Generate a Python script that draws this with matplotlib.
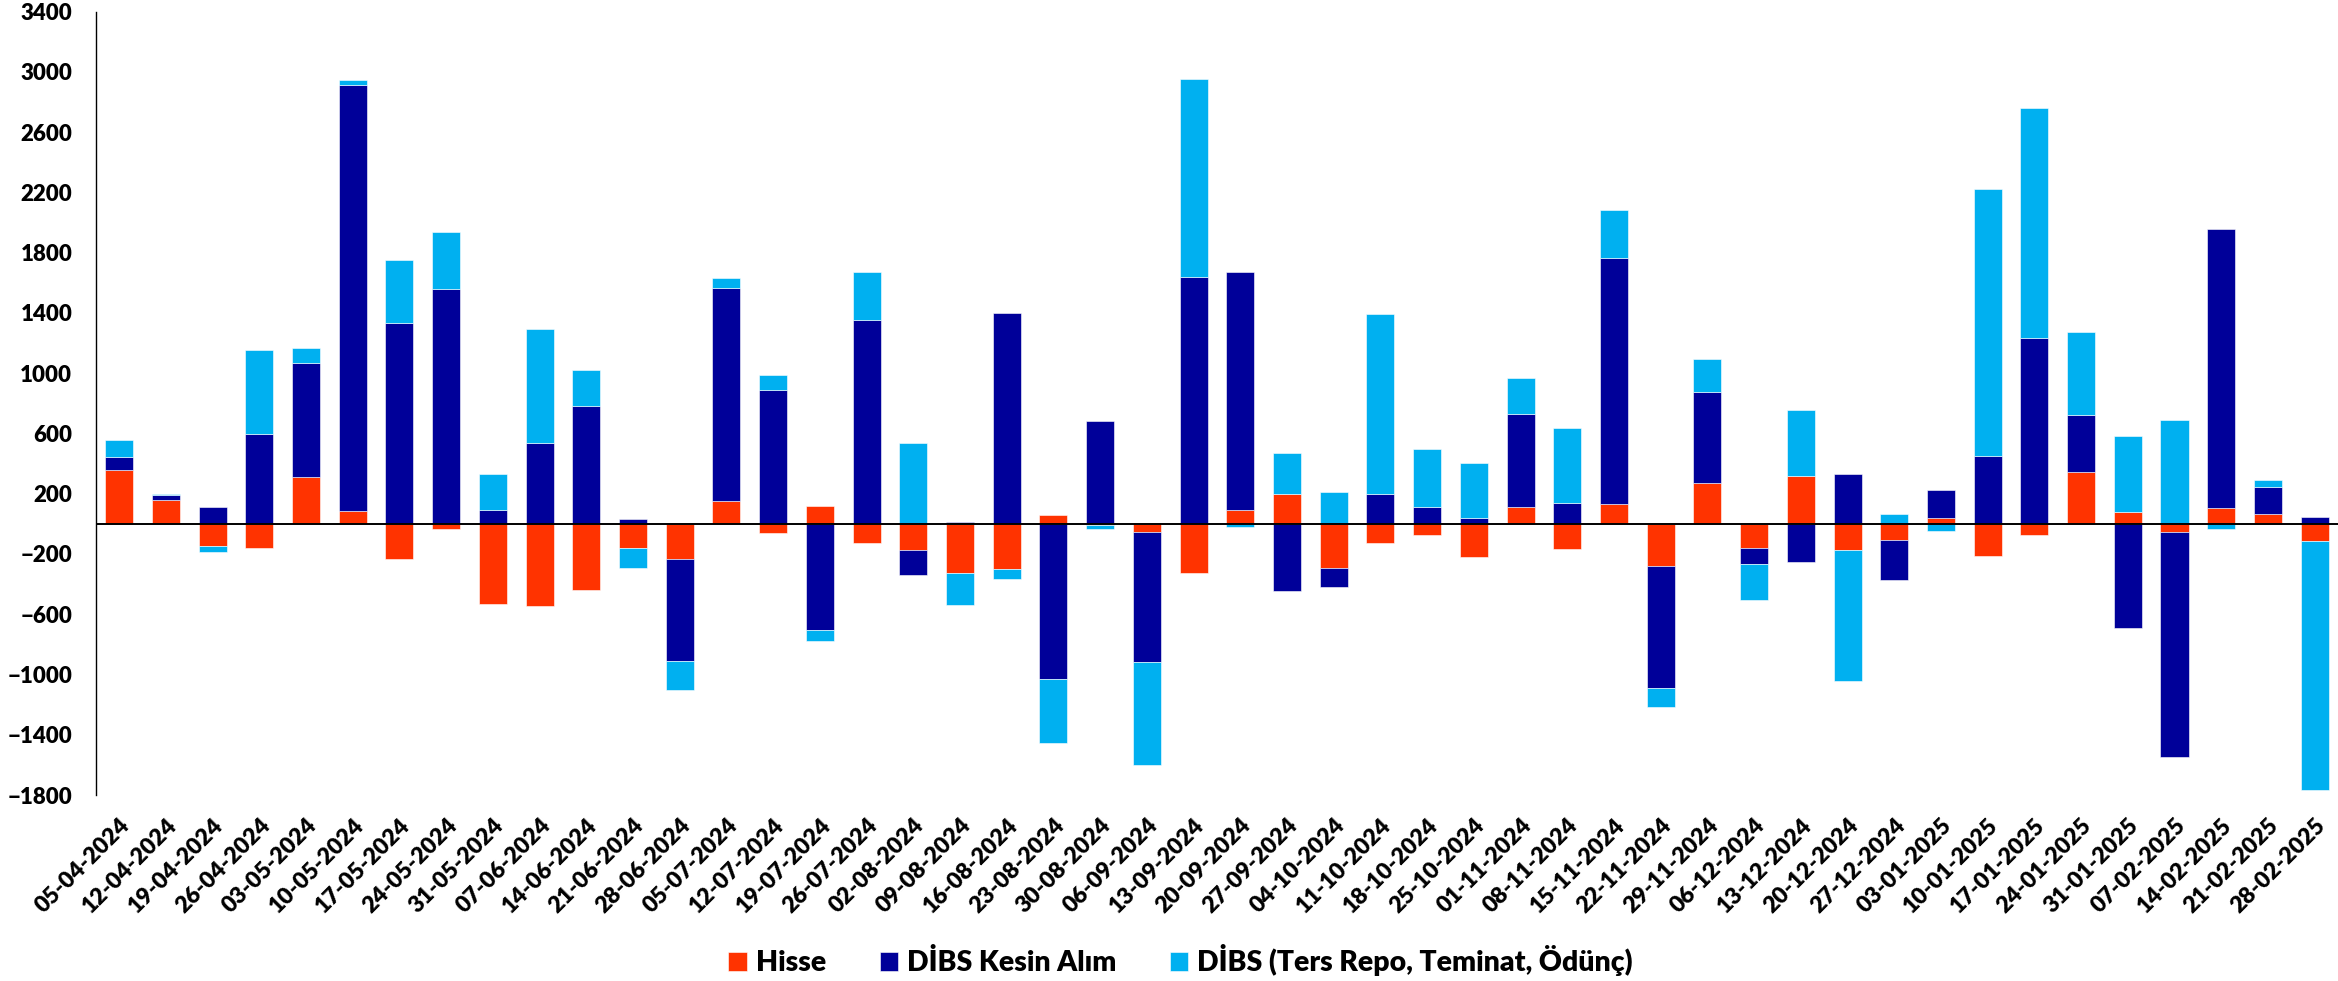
import numpy as np
import matplotlib
matplotlib.use('Agg')
from matplotlib import pyplot as plt

plt.rcParams['font.family'] = ['Lato', 'DejaVu Sans']
plt.rcParams['font.weight'] = 'heavy'

dates = ['05-04-2024', '12-04-2024', '19-04-2024', '26-04-2024', '03-05-2024', '10-05-2024',
         '17-05-2024', '24-05-2024', '31-05-2024', '07-06-2024', '14-06-2024', '21-06-2024',
         '28-06-2024', '05-07-2024', '12-07-2024', '19-07-2024', '26-07-2024', '02-08-2024',
         '09-08-2024', '16-08-2024', '23-08-2024', '30-08-2024', '06-09-2024', '13-09-2024',
         '20-09-2024', '27-09-2024', '04-10-2024', '11-10-2024', '18-10-2024', '25-10-2024',
         '01-11-2024', '08-11-2024', '15-11-2024', '22-11-2024', '29-11-2024', '06-12-2024',
         '13-12-2024', '20-12-2024', '27-12-2024', '03-01-2025', '10-01-2025', '17-01-2025',
         '24-01-2025', '31-01-2025', '07-02-2025', '14-02-2025', '21-02-2025', '28-02-2025']

hisse = [356, 158, -144, -162, 308, 82, -235, -37, -534, -548, -440, -158,
         -235, 151, -61, 120, -130, -172, -325, -301, 61, -8, -54, -325,
         89, 197, -294, -130, -75, -221, 110, -165, 134, -277, 273, -162,
         318, -172, -106, 40, -214, -71, 343, 78, -57, 103, 68, -113]

dibs_kesin = [88, 35, 110, 597, 758, 2831, 1330, 1560, 89, 537, 784, 33,
              -675, 1416, 889, -705, 1355, -167, 12, 1396, -1028, 680, -862, 1640,
              1582, -447, -125, 197, 110, 37, 619, 141, 1628, -813, 605, -104,
              -252, 329, -268, 184, 451, 1233, 379, -690, -1489, 1854, 177, 43]

dibs_repo = [114, 5, -46, 560, 104, 35, 421, 376, 240, 755, 240, -136,
             -191, 63, 101, -76, 316, 538, -212, -63, -424, -28, -682, 1315,
             -23, 271, 211, 1196, 386, 368, 236, 497, 323, -126, 219, -237,
             439, -870, 68, -50, 1774, 1524, 549, 505, 687, -33, 49, -1652]

labels = ['Hisse', 'DİBS Kesin Alım', 'DİBS (Ters Repo, Teminat, Ödünç)']
colors = ['#FF3300', '#000099', '#00B0F0']

fig = plt.figure(figsize=(23.38, 9.81), dpi=100)
ax = fig.add_axes([0.041, 0.1896, 0.959, 0.7986])

x = np.arange(len(dates))
pos = np.zeros(len(dates))
neg = np.zeros(len(dates))
for vals, lab, col in zip([hisse, dibs_kesin, dibs_repo], labels, colors):
    v = np.array(vals, dtype=float)
    bottom = np.where(v >= 0, pos, neg)
    ax.bar(x, v, 0.6, bottom=bottom, color=col, label=lab, edgecolor='white', linewidth=0.4)
    pos = pos + np.where(v >= 0, v, 0)
    neg = neg + np.where(v < 0, v, 0)

ax.axhline(0, color='black', lw=1.4, zorder=5)

ax.set_xlim(-0.5, len(dates) - 0.5)
ax.set_ylim(-1800, 3400)
ax.set_yticks(np.arange(-1800, 3401, 400))
ax.set_xticks(x)
ax.set_xticklabels(dates, rotation=45, ha='right', va='top', rotation_mode='anchor')
ax.tick_params(axis='x', length=0, pad=14, labelsize=16.5)
ax.tick_params(axis='y', length=0, pad=17, labelsize=16)

for s in ['top', 'right', 'bottom']:
    ax.spines[s].set_visible(False)
ax.spines['left'].set_linewidth(1.0)

fig.legend(loc='center', bbox_to_anchor=(0.505, 0.021), ncol=3, frameon=False,
           fontsize=20.4, handlelength=0.64, handleheight=0.64, handletextpad=0.32,
           columnspacing=1.9)

fig.savefig('out.png', dpi=100)
